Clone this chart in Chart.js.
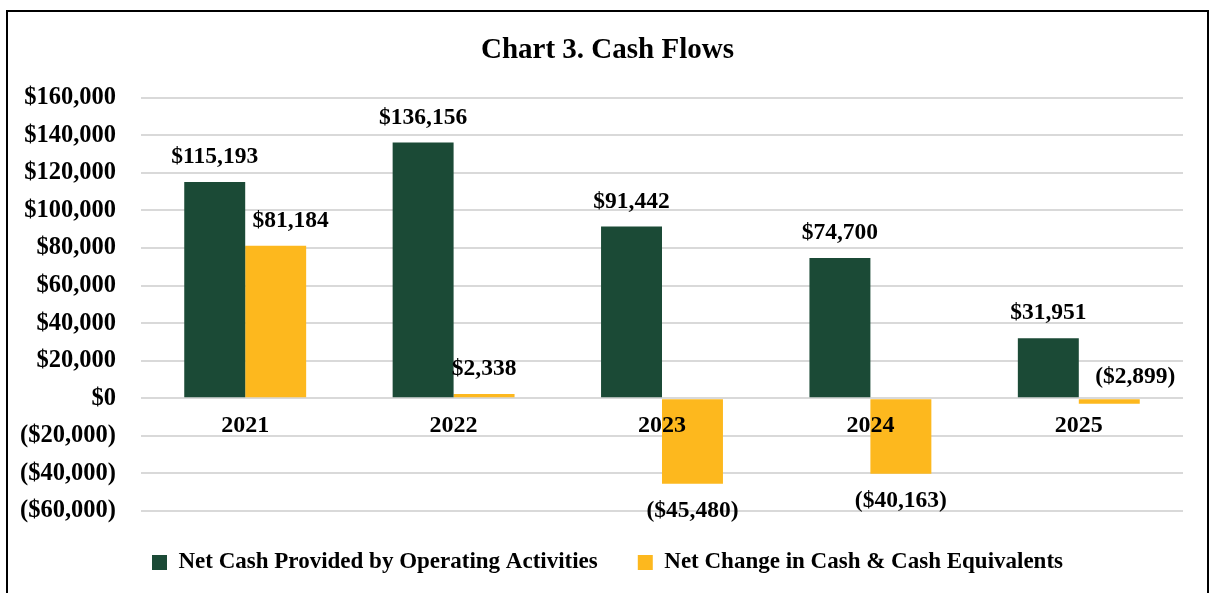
<!DOCTYPE html>
<html>
<head>
<meta charset="utf-8">
<script src="https://cdn.jsdelivr.net/npm/chart.js@4.4.1/dist/chart.umd.min.js"></script>
<style>
  html, body { margin: 0; padding: 0; background: #fff; overflow: hidden; }
  #frame {
    position: absolute; left: 6px; top: 10px;
    width: 1199px; height: 600px;
    border: 2px solid #000; border-bottom: none;
  }
  #wrap { position: absolute; left: 0; top: 0; width: 1199px; height: 581px; }
</style>
</head>
<body>
<div id="frame"><div id="wrap"><canvas id="chart"></canvas></div></div>
<script>
// chart data
const YEARS = ['2021', '2022', '2023', '2024', '2025'];
const OPERATING = [115193, 136156, 91442, 74700, 31951];
const NET_CHANGE = [81184, 2338, -45480, -40163, -2899];
const SERIES_NAMES = ['Net Cash Provided by Operating Activities', 'Net Change in Cash & Cash Equivalents'];
const Y_MIN = -60000, Y_MAX = 160000, Y_STEP = 20000;

const GREEN = '#1b4a36';
const YELLOW = '#fdb81e';
const FONT = '"Liberation Serif", "Times New Roman", serif';

const money = v => {
    const s = '$' + Math.abs(v).toLocaleString('en-US');
    return v < 0 ? '(' + s + ')' : s;
};

// ── value labels above / below the bars ──
const valueLabels = {
    id: 'valueLabels',
    afterDatasetsDraw(chart) {
        const ctx = chart.ctx;
        ctx.save();
        ctx.font = 'bold 23.5px ' + FONT;
        ctx.fillStyle = '#000';
        ctx.textAlign = 'center';
        ctx.textBaseline = 'middle';
        chart.data.datasets.forEach((ds, di) => {
            const meta = chart.getDatasetMeta(di);
            meta.data.forEach((bar, i) => {
                const v = ds.data[i];
                let x = bar.x, y;
                if (v >= 0) {
                    y = bar.y - 25;
                    if (di === 1 && i === 0) x += 15;   // Excel nudged this one right
                } else if (Math.abs(bar.y - bar.base) < 20) {
                    // tiny negative bar: label sits above the zero line, off to the right
                    y = bar.base - 22;
                    x += 26;
                } else {
                    y = bar.y + 27;
                }
                ctx.fillText(money(v), x, y);
            });
        });
        ctx.restore();
    }
};

new Chart(document.getElementById('chart'), {
    type: 'bar',
    data: {
        labels: YEARS,
        datasets: [
            { label: SERIES_NAMES[0], data: OPERATING, backgroundColor: GREEN },
            { label: SERIES_NAMES[1], data: NET_CHANGE, backgroundColor: YELLOW }
        ]
    },
    options: {
        responsive: true,
        maintainAspectRatio: false,
        animation: false,
        layout: { padding: { left: 0, right: 0, top: 0, bottom: 9 } },
        datasets: { bar: { categoryPercentage: 0.585, barPercentage: 1.0 } },
        scales: {
            x: {
                position: { y: 0 },
                grid: { display: false },
                border: { display: false },
                ticks: { z: 1, color: '#000', padding: 5, font: { family: FONT, size: 24, weight: 'bold' } }
            },
            y: {
                min: Y_MIN, max: Y_MAX,
                afterFit: s => { s.width = 133; },
                grid: { color: '#d9d9d9', lineWidth: 2, drawTicks: false },
                border: { display: false },
                ticks: {
                    stepSize: Y_STEP,
                    padding: 25,
                    color: '#000',
                    font: { family: FONT, size: 24.5, weight: 'bold' },
                    callback: v => money(v)
                }
            },
            // empty right-hand gutter so title and legend stay centred on the frame
            gutter: {
                axis: 'y',
                position: 'right',
                min: Y_MIN, max: Y_MAX,
                afterFit: s => { s.width = 24; },
                grid: { display: false },
                border: { display: false },
                ticks: { display: false }
            }
        },
        plugins: {
            title: {
                display: true,
                text: 'Chart 3. Cash Flows',
                color: '#000',
                font: { family: FONT, size: 29, weight: 'bold' },
                padding: { top: 21.5, bottom: 29.5 }
            },
            legend: {
                position: 'bottom',
                labels: {
                    color: '#000',
                    boxWidth: 15, boxHeight: 15,
                    padding: 40,
                    font: { family: FONT, size: 23, weight: 'bold' }
                }
            },
            tooltip: { enabled: false }
        }
    },
    plugins: [valueLabels]
});
</script>
</body>
</html>
